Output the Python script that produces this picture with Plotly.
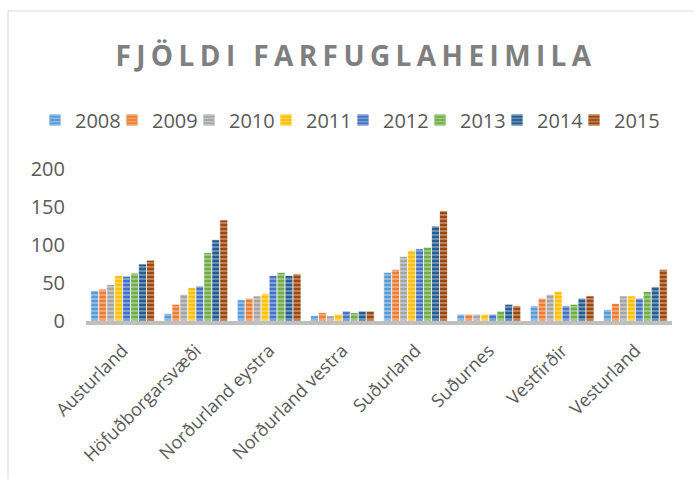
import plotly.graph_objects as go

categories = ["Austurland", "Höfuðborgarsvæði", "Norðurland eystra", "Norðurland vestra",
              "Suðurland", "Suðurnes", "Vestfirðir", "Vesturland"]
years = ["2008", "2009", "2010", "2011", "2012", "2013", "2014", "2015"]

v2008 = [40, 10, 28, 7, 64, 9, 20, 15]
v2009 = [42, 22, 30, 11, 68, 9, 30, 23]
v2010 = [48, 35, 33, 7, 85, 9, 35, 33]
v2011 = [60, 44, 36, 9, 93, 9, 39, 33]
v2012 = [59, 46, 60, 13, 95, 9, 20, 30]
v2013 = [63, 90, 64, 11, 97, 13, 22, 39]
v2014 = [75, 107, 60, 13, 125, 22, 30, 45]
v2015 = [80, 133, 62, 13, 145, 20, 33, 68]
series = [v2008, v2009, v2010, v2011, v2012, v2013, v2014, v2015]

colors = ["#5B9BD5", "#ED7D31", "#A5A5A5", "#FFC000", "#4472C4", "#70AD47", "#255E91", "#9E480E"]
y_ticks = [0, 50, 100, 150, 200]


def lighten(hex_color, f):
    h = hex_color.lstrip("#")
    r, g, b = int(h[0:2], 16), int(h[2:4], 16), int(h[4:6], 16)
    r = int(r + (255 - r) * f)
    g = int(g + (255 - g) * f)
    b = int(b + (255 - b) * f)
    return f"rgb({r},{g},{b})"


W, H = 694, 479
L, R, T, B = 86, 22, 169, 158
pw, ph = W - L - R, H - T - B

fig = go.Figure()
for i, (yr, vals, c) in enumerate(zip(years, series, colors)):
    fig.add_trace(go.Bar(
        x=categories, y=vals, name=yr,
        legend="legend" if i < 4 else "legend2",
        marker=dict(
            color=c,
            line=dict(color="rgba(255,255,255,0.7)", width=1),
            pattern=dict(shape="-", bgcolor=c, fgcolor=lighten(c, 0.35),
                         size=4, solidity=0.45, fillmode="replace"),
        ),
    ))

font_family = "Open Sans, Liberation Sans, sans-serif"

legend_common = dict(orientation="h", xref="container", yref="paper",
                     xanchor="left", y=1 + (T - 120) / ph, yanchor="middle",
                     font=dict(size=20, color="#595959"), itemwidth=30,
                     entrywidth=32, entrywidthmode="pixels",
                     traceorder="normal", bgcolor="rgba(0,0,0,0)")

fig.update_layout(
    width=W, height=H,
    margin=dict(l=L, r=R, t=T, b=B, pad=0, autoexpand=False),
    paper_bgcolor="white", plot_bgcolor="white",
    barmode="group", bargap=0.13, bargroupgap=0.0,
    font=dict(family=font_family, color="#595959"),
    title=dict(text="<b>FJÖLDI FARFUGLAHEIMILA</b>", x=356 / W, xanchor="center",
               xref="container", yref="container", y=1 - 56 / H, yanchor="middle",
               font=dict(size=28, color="#7F7F7F", family=font_family)),
    legend=dict(x=35 / W, **legend_common),
    legend2=dict(x=(35 + 4 * 77) / W, **legend_common),
    xaxis=dict(showline=True, linecolor="#BFBFBF", linewidth=4, ticks="",
               tickangle=-45, tickfont=dict(size=18, color="#595959"),
               ticklabelstandoff=8,
               showgrid=False, fixedrange=True, automargin=False),
    yaxis=dict(range=[0, 200], tickvals=y_ticks, showgrid=False, zeroline=False,
               showline=False, ticks="", tickfont=dict(size=20, color="#595959"),
               ticklabelstandoff=20, fixedrange=True, automargin=False),
    shapes=[
        dict(type="line", xref="paper", yref="paper",
             x0=(8 - L) / pw, x1=(8 - L) / pw, y0=(H - B - 11) / ph,
             y1=-(B + 5) / ph, line=dict(color="#D9D9D9", width=1)),
        dict(type="line", xref="paper", yref="paper",
             x0=(8 - L) / pw, x1=(W + 5 - L) / pw, y0=(H - B - 11) / ph, y1=(H - B - 11) / ph,
             line=dict(color="#D9D9D9", width=1)),
    ],
)

post = """
document.body.style.margin = '0';
document.body.style.overflow = 'hidden';
var t = document.querySelector('.gtitle');
if (t) { t.style.letterSpacing = '5.4px'; }
document.querySelectorAll('.legend [clip-path], .legend2 [clip-path], .legend2[clip-path], .legend[clip-path]')
  .forEach(function(e){ e.removeAttribute('clip-path'); });
"""
fig.write_html("out.html", post_script=post, config={"displayModeBar": False})
